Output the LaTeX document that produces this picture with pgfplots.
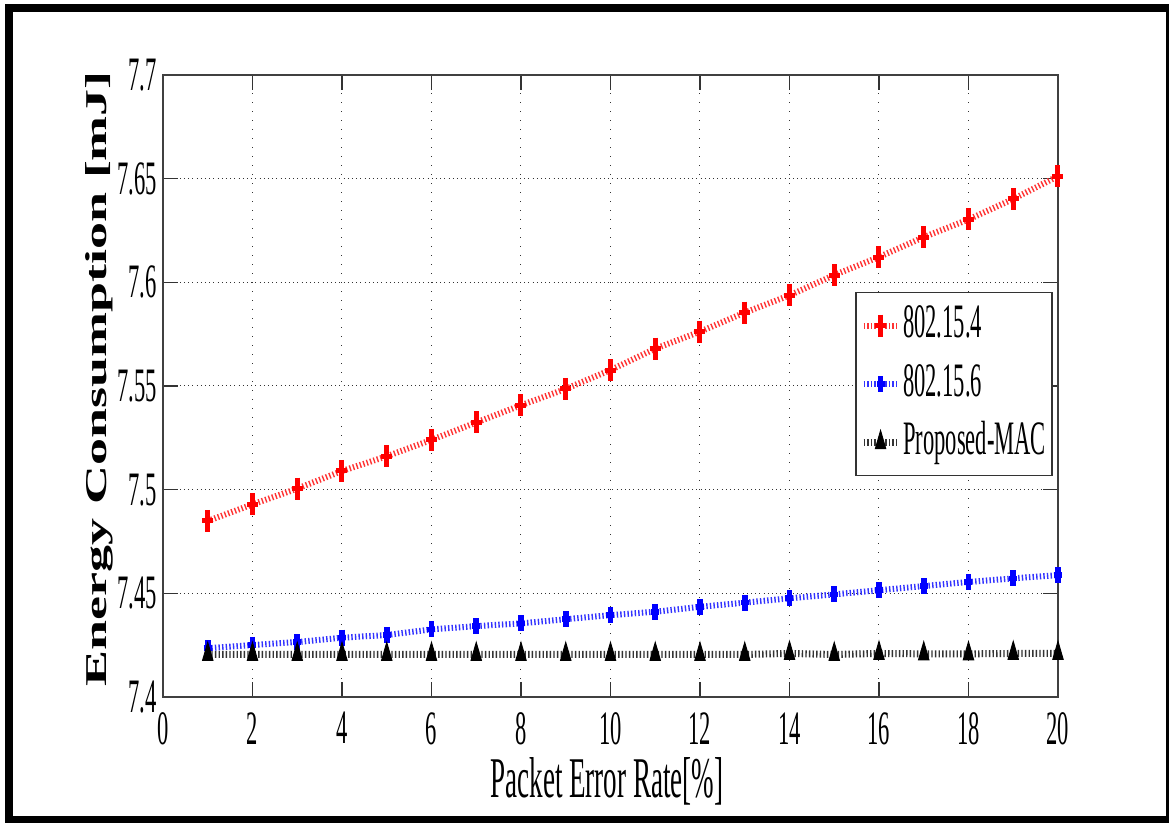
\documentclass[border=0pt]{standalone}
\usepackage{fontspec}
\setmainfont{Liberation Serif}[FakeStretch=0.47]
\newfontfamily\ylfont{Liberation Serif}
\usepackage{graphicx}
\usepackage{pgfplots}
\pgfplotsset{compat=1.18}
\begin{document}
\begin{tikzpicture}
\useasboundingbox (-81.5pt,-63pt) rectangle (503pt,348.5pt);
\draw[line width=4pt] (-77pt,-61.5pt) rectangle (503.5pt,344.5pt);
\begin{axis}[
  at={(0,0)}, anchor=south west,
  scale only axis, width=447.5pt, height=311pt,
  xmin=0, xmax=20, ymin=7.4, ymax=7.7,
  xtick={0,2,4,6,8,10,12,14,16,18,20},
  ytick={7.4,7.45,7.5,7.55,7.6,7.65,7.7},
  yticklabels={7.4,7.45,7.5,7.55,7.6,7.65,7.7},
  axis line style={black!75, line width=0.7pt},
  major tick length=7.5pt,
  tick style={black!80, line width=0.6pt},
  grid=major,
  x grid style={black!80, line width=0.5pt, dash pattern=on 0.5pt off 4pt},
  y grid style={black!80, line width=0.5pt, dash pattern=on 0.5pt off 1.6pt},
  /pgf/number format/assume math mode=true,
  ticklabel style={font=\fontsize{24}{28}\selectfont},
  xticklabel style={inner sep=1pt, yshift=-6.5pt},
  yticklabel style={inner sep=1pt, xshift=-2pt},
  xlabel={Packet Error Rate[\%]},
  xlabel style={font=\fontsize{28.8}{32}\selectfont, at={(axis description cs:0.496,0)}, anchor=base, yshift=-50.5pt},
  ylabel={\scalebox{1}[0.56]{Energy Consumption [mJ]}},
  ylabel style={font=\ylfont\bfseries\fontsize{27}{31}\selectfont, at={(axis description cs:-0.0715,0.512)}, anchor=center, inner sep=0pt},
  legend style={at={(0.994,0.651)}, anchor=north east, draw=black!80, line width=0.6pt, fill=white,
    inner xsep=2pt, inner ysep=5.5pt, row sep=7.25pt,
    font=\fontsize{24}{28}\selectfont,
    nodes={inner sep=1pt, text height=16pt, text depth=4pt}},
  legend cell align=left,
]
\addplot[red!80, line width=3pt, dash pattern=on 0.7pt off 1.1pt,
  mark=+, mark size=5.5pt, mark options={solid, red, line width=2.5pt, xscale=0.5}]
coordinates {
(1,7.4849) (2,7.4929) (3,7.5005) (4,7.5090) (5,7.5161) (6,7.5240) (7,7.5324)
(8,7.5407) (9,7.5486) (10,7.5577) (11,7.5680) (12,7.5762) (13,7.5854) (14,7.5937)
(15,7.6035) (16,7.6122) (17,7.6218) (18,7.6303) (19,7.6402) (20,7.6512)};
\addlegendentry{802.15.4}
\addplot[blue!80, line width=3pt, dash pattern=on 0.7pt off 1.1pt,
  mark=+, mark size=4pt, mark options={solid, blue, line width=2.8pt, xscale=0.5}]
coordinates {
(1,7.4235) (2,7.4251) (3,7.4265) (4,7.4286) (5,7.4299) (6,7.4326) (7,7.4342)
(8,7.4355) (9,7.4375) (10,7.4395) (11,7.4411) (12,7.4435) (13,7.4455) (14,7.4476)
(15,7.4495) (16,7.4515) (17,7.4535) (18,7.4555) (19,7.4572) (20,7.4588)};
\addlegendentry{802.15.6}
\addplot[black!80, line width=3.5pt, dash pattern=on 0.7pt off 1.1pt,
  mark=triangle*, mark size=6pt, mark options={solid, black, fill=black, line width=0.5pt, xscale=0.5}]
coordinates {
(1,7.4205) (2,7.4205) (3,7.4205) (4,7.4205) (5,7.4205) (6,7.4205) (7,7.4205)
(8,7.4205) (9,7.4205) (10,7.4205) (11,7.4205) (12,7.4205) (13,7.4205) (14,7.4210)
(15,7.4205) (16,7.4210) (17,7.4208) (18,7.4208) (19,7.4210) (20,7.4210)};
\addlegendentry{Proposed-MAC}
\end{axis}
\end{tikzpicture}
\end{document}
